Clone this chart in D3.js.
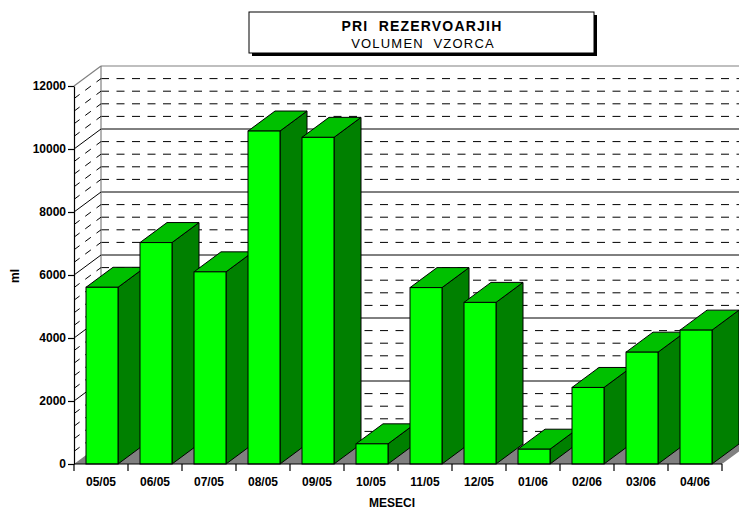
<!DOCTYPE html>
<html>
<head>
<meta charset="utf-8">
<script src="https://cdn.jsdelivr.net/npm/d3@7"></script>
<style>
  html, body { margin: 0; padding: 0; background: #fff; }
  svg { display: block; font-family: "Liberation Sans", Arial, sans-serif; }
</style>
</head>
<body>
<svg id="chart" width="739" height="509"></svg>
<script>
// Monthly sample volume (ml) at the reservoirs
const categories = ["05/05", "06/05", "07/05", "08/05", "09/05", "10/05",
                    "11/05", "12/05", "01/06", "02/06", "03/06", "04/06"];
const volumes = [5610, 7030, 6100, 10570, 10370, 640, 5600, 5130, 470, 2430, 3550, 4250];
const yTicks = [0, 2000, 4000, 6000, 8000, 10000, 12000];
const minorStep = 400;
const titleLines = ["PRI  REZERVOARJIH", "VOLUMEN  VZORCA"];
const yTitle = "ml";
const xTitle = "MESECI";

const svg = d3.select("#chart");
const W = 739, H = 509;

// plot frame (front plane) and 3D depth offset
const pL = 74, pR = 722, pB = 464, pT = 86;
const dx = 27, dy = -20;

const x = d3.scaleBand().domain(categories).range([pL, pR]).padding(0);
const y = d3.scaleLinear().domain([0, 12000]).range([pB, pT]);

const barOffset = 12, barWidth = 32;

const g = svg.append("g");

// floor
g.append("polygon")
  .attr("points", [[pL, pB], [pR, pB], [pR + dx, pB + dy], [pL + dx, pB + dy]].join(" "))
  .attr("fill", "#808080");

// back wall grid: minor dashed, major solid
const minorVals = d3.range(minorStep, 12000, minorStep).filter(v => v % 2000 !== 0);
const majorVals = yTicks.filter(v => v > 0 && v < 12000);
const wallRight = pR + dx;

g.selectAll("line.minor").data(minorVals).join("line")
  .attr("class", "minor")
  .attr("x1", pL + dx).attr("x2", wallRight)
  .attr("y1", d => y(d) + dy).attr("y2", d => y(d) + dy)
  .attr("stroke", "#000").attr("stroke-width", 1)
  .attr("stroke-dasharray", "8,7.5");

g.selectAll("line.major").data(majorVals).join("line")
  .attr("class", "major")
  .attr("x1", pL + dx).attr("x2", wallRight)
  .attr("y1", d => y(d) + dy).attr("y2", d => y(d) + dy)
  .attr("stroke", "#000").attr("stroke-width", 1);

// top edge of back wall and its left edge
g.append("line")
  .attr("x1", pL + dx).attr("x2", wallRight)
  .attr("y1", y(12000) + dy).attr("y2", y(12000) + dy)
  .attr("stroke", "#808080").attr("stroke-width", 1.2);
g.append("line")
  .attr("x1", pL + dx).attr("x2", pL + dx)
  .attr("y1", y(0) + dy).attr("y2", y(12000) + dy)
  .attr("stroke", "#808080").attr("stroke-width", 1.2);

// left wall diagonals
g.selectAll("line.lminor").data(minorVals).join("line")
  .attr("class", "lminor")
  .attr("x1", pL).attr("y1", d => y(d))
  .attr("x2", pL + dx).attr("y2", d => y(d) + dy)
  .attr("stroke", "#000").attr("stroke-width", 1)
  .attr("stroke-dasharray", "7,7");

g.selectAll("line.lmajor").data(majorVals).join("line")
  .attr("class", "lmajor")
  .attr("x1", pL).attr("y1", d => y(d))
  .attr("x2", pL + dx).attr("y2", d => y(d) + dy)
  .attr("stroke", "#000").attr("stroke-width", 1);

g.append("line")
  .attr("x1", pL).attr("y1", y(12000))
  .attr("x2", pL + dx).attr("y2", y(12000) + dy)
  .attr("stroke", "#808080").attr("stroke-width", 1.2);

// bars, left to right so each one covers its left neighbour's side
const bars = g.selectAll("g.bar").data(categories.map((c, i) => ({ c, v: volumes[i] }))).join("g")
  .attr("class", "bar");

bars.each(function (d) {
  const gb = d3.select(this);
  const xl = x(d.c) + barOffset, xr = xl + barWidth;
  const yv = y(d.v), y0 = y(0);
  gb.append("polygon")
    .attr("points", [[xr, yv], [xr + dx, yv + dy], [xr + dx, y0 + dy], [xr, y0]].join(" "))
    .attr("fill", "#008000").attr("stroke", "#000").attr("stroke-width", 1).attr("stroke-linejoin", "round");
  gb.append("polygon")
    .attr("points", [[xl, yv], [xl + dx, yv + dy], [xr + dx, yv + dy], [xr, yv]].join(" "))
    .attr("fill", "#00c000").attr("stroke", "#000").attr("stroke-width", 1).attr("stroke-linejoin", "round");
  gb.append("rect")
    .attr("x", xl).attr("y", yv).attr("width", barWidth).attr("height", y0 - yv)
    .attr("fill", "#00ff00").attr("stroke", "#000").attr("stroke-width", 1);
});

// y axis
const yAxis = svg.append("g")
  .attr("transform", `translate(${pL},0)`)
  .call(d3.axisLeft(y).tickValues(yTicks).tickSize(6).tickSizeOuter(0).tickPadding(2).tickFormat(d3.format("d")));
yAxis.select(".domain").attr("stroke", "#000").attr("stroke-width", 1.2);
yAxis.selectAll(".tick line").attr("stroke", "#000").attr("stroke-width", 1.2);
yAxis.selectAll(".tick text")
  .attr("font-family", "Liberation Sans, Arial, sans-serif")
  .attr("font-size", 12).attr("font-weight", "bold").attr("fill", "#000");

// x axis: labels centred on each month, ticks at month boundaries
const xAxis = svg.append("g")
  .attr("transform", `translate(0,${pB})`)
  .call(d3.axisBottom(x).tickSize(0).tickSizeOuter(0).tickPadding(13));
xAxis.select(".domain").remove();
xAxis.selectAll(".tick text")
  .attr("font-family", "Liberation Sans, Arial, sans-serif")
  .attr("font-size", 12).attr("font-weight", "bold").attr("fill", "#000");

xAxis.append("line")
  .attr("x1", pL).attr("x2", pR).attr("y1", 0).attr("y2", 0)
  .attr("stroke", "#000").attr("stroke-width", 1.2);
const bounds = categories.map(c => x(c)).concat([x.range()[1]]);
xAxis.selectAll("line.btick").data(bounds).join("line")
  .attr("class", "btick")
  .attr("x1", d => d).attr("x2", d => d).attr("y1", 0).attr("y2", 7)
  .attr("stroke", "#000").attr("stroke-width", 1.2);

// axis titles
svg.append("text")
  .attr("transform", `translate(19,276) rotate(-90)`)
  .attr("text-anchor", "middle")
  .attr("font-size", 12).attr("font-weight", "bold")
  .text(yTitle);

svg.append("text")
  .attr("x", 392).attr("y", 507)
  .attr("text-anchor", "middle")
  .attr("font-size", 12).attr("font-weight", "bold")
  .text(xTitle);

// title box with drop shadow
const tb = { x: 249, y: 12, w: 345, h: 41 };
svg.append("rect")
  .attr("x", tb.x + 3).attr("y", tb.y + 3).attr("width", tb.w).attr("height", tb.h)
  .attr("fill", "#000");
svg.append("rect")
  .attr("x", tb.x).attr("y", tb.y).attr("width", tb.w).attr("height", tb.h)
  .attr("fill", "#fff").attr("stroke", "#000").attr("stroke-width", 1);

svg.append("text")
  .attr("x", 422).attr("y", 31)
  .attr("text-anchor", "middle")
  .attr("font-size", 14).attr("font-weight", "bold")
  .attr("letter-spacing", 1.2)
  .style("white-space", "pre")
  .text(titleLines[0]);
svg.append("text")
  .attr("x", 423).attr("y", 48)
  .attr("text-anchor", "middle")
  .attr("font-size", 13)
  .attr("letter-spacing", 1.2)
  .style("white-space", "pre")
  .text(titleLines[1]);
</script>
</body>
</html>
